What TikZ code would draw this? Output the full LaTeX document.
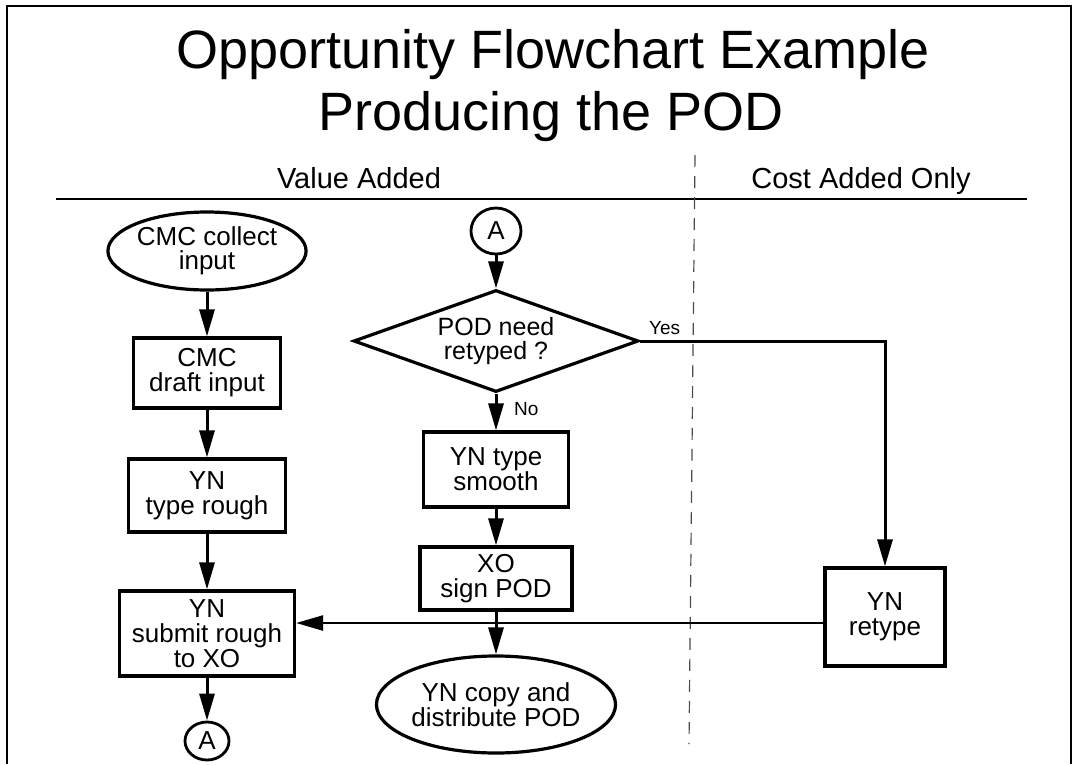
\documentclass[tikz,border=0pt]{standalone}
\usepackage{fontspec}
\setmainfont{Liberation Sans}
\usetikzlibrary{arrows.meta,shapes.geometric}

\begin{document}
\begin{tikzpicture}[x=1pt,y=-1pt,
	procbox/.style={draw,line width=3.2pt,inner sep=0pt,align=center,font=\fontsize{26}{25}\selectfont},
	term/.style={draw,ellipse,line width=3.2pt,inner sep=0pt,align=center,font=\fontsize{26}{24.5}\selectfont},
	choice/.style={draw,diamond,aspect=2.8,line width=3.2pt,inner sep=0pt,align=center,font=\fontsize{25}{24}\selectfont},
	endcap/.style={draw,ellipse,line width=2.8pt,inner sep=0pt,font=\fontsize{26}{26}\selectfont},
	tag/.style={anchor=base west,inner sep=0pt,font=\fontsize{19}{19}\selectfont},
	flow/.style={line width=3pt,-{Triangle[length=27pt,width=15pt]}}]
			\useasboundingbox (0,0) rectangle (1077,764);
			% frame and headings
			\draw[line width=2.6pt] (7,764) -- (7,6) -- (1071,6) -- (1071,764);
			\node[anchor=base,font=\fontsize{54}{62}\selectfont] (title) at (553,68) {Opportunity Flowchart Example};
			\node[anchor=base,font=\fontsize{54}{62}\selectfont] (subtitle) at (551,130) {Producing the POD};
			\node[anchor=base,font=\fontsize{29}{30}\selectfont] (value) at (359,188) {Value Added};
			\node[anchor=base,font=\fontsize{29}{30}\selectfont] (cost) at (861,188) {Cost Added Only};
			\draw[line width=2.6pt] (56,199) -- (1027,199);
			\draw[black!70,line width=1.2pt,dash pattern=on 12pt off 9pt] (695,155) -- (689,744);
			% left column
			\def\colL{207} \def\colM{496}
			\node[term,minimum width=194pt,minimum height=78pt] (collect) at (\colL,251) {CMC collect\\input};
			\node[procbox,minimum width=147pt,minimum height=70pt] (draft) at (\colL,373) {CMC\\draft input};
			\node[procbox,minimum width=157pt,minimum height=73pt] (rough) at (\colL,495.5) {YN\\type rough};
			\node[procbox,minimum width=175pt,minimum height=85pt] (submit) at (\colL,633.5) {YN\\submit rough\\to XO};
			\node[endcap,minimum width=44pt,minimum height=38pt] (outA) at (\colL,741) {A};
			\draw[flow] (collect.south) -- (draft.north);
			\draw[flow] (draft.south) -- (rough.north);
			\draw[flow] (rough.south) -- (submit.north);
			\draw[flow] (submit.south) -- (outA.north);
			% middle column
			\node[endcap,minimum width=50pt,minimum height=46pt] (inA) at (\colM,231) {A};
			\node[choice,minimum width=285pt,minimum height=102pt] (need) at (\colM,341) {POD need\\retyped ?};
			\node[procbox,minimum width=145pt,minimum height=75pt] (smooth) at (\colM,469.5) {YN type\\smooth};
			\node[procbox,minimum width=152pt,minimum height=63pt] (sign) at (\colM,578.5) {XO\\sign POD};
			\node[term,minimum width=239pt,minimum height=97pt] (copy) at (\colM,704.5) {YN copy and\\distribute POD};
			\draw[flow] (inA.south) -- (need.north);
			\draw[flow] (need.south) -- (smooth.north);
			\node[tag] (no) at (514,415) {No};
			\draw[flow] (smooth.south) -- (sign.north);
			\draw[flow] (sign.south) -- (copy.north);
			% cost added only
			\node[procbox,minimum width=120pt,minimum height=98pt] (retype) at (885,617) {YN\\retype};
			\node[tag] (yes) at (649,334) {Yes};
			\draw[flow] (need.east) -- (need.east -| retype.north) -- (retype.north);
			\draw[flow,line width=2.4pt] ([yshift=-6pt]retype.west) -- ([yshift=-6pt]retype.west -| submit.east);
		\end{tikzpicture}
\end{document}
